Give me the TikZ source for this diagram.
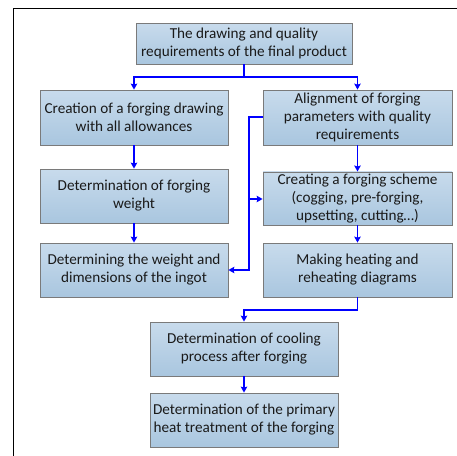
\documentclass[tikz,border=0pt]{standalone}
\usepackage{fontspec}
\setmainfont{Carlito}
\usetikzlibrary{arrows.meta,shadows,calc}
\definecolor{boxtop}{HTML}{C8DBEC}
\definecolor{boxbot}{HTML}{A9C6DF}
\definecolor{boxline}{HTML}{7A7A7A}
\definecolor{arrowblue}{HTML}{0000FF}
\definecolor{txt}{HTML}{1A1A1A}
\begin{document}
\begin{tikzpicture}[x=1pt,y=-1pt,
  flowbox/.style={draw=boxline, line width=0.8pt, top color=boxtop, bottom color=boxbot,
    align=center, inner sep=2pt, text=txt, font=\fontsize{15.2}{18}\selectfont,
    drop shadow={shadow xshift=1.2pt, shadow yshift=-1.2pt, opacity=0.35, fill=gray}},
  conn/.style={draw=arrowblue, line width=1.6pt, -{Stealth[length=6pt,width=6.5pt,inset=1pt]}}]
\useasboundingbox (0,0) rectangle (457,455);
\fill[white] (0,0) rectangle (457,455);
\draw[line width=0.9pt] (460,8) -- (13,8) -- (13,460);
\node[flowbox, minimum width=216pt, minimum height=41pt] (top) at (244,43.5)
  {The drawing and quality\\requirements of the final product};
\node[flowbox, minimum width=188pt, minimum height=55pt] (l1) at (134,117.5)
  {Creation of a forging drawing\\with all allowances};
\node[flowbox, minimum width=189pt, minimum height=55pt] (r1) at (357.5,117.5)
  {Alignment of forging\\parameters with quality\\requirements};
\node[flowbox, minimum width=188pt, minimum height=54pt] (l2) at (134,196)
  {Determination of forging\\weight};
\node[flowbox, minimum width=189pt, minimum height=53pt] (r2) at (357.5,198.5)
  {Creating a forging scheme\\(cogging, pre-forging,\\upsetting, cutting…)};
\node[flowbox, minimum width=188pt, minimum height=54pt] (l3) at (134,270)
  {Determining the weight and\\dimensions of the ingot};
\node[flowbox, minimum width=189pt, minimum height=54pt] (r3) at (357.5,270)
  {Making heating and\\reheating diagrams};
\node[flowbox, minimum width=188pt, minimum height=54pt] (c1) at (244,349)
  {Determination of cooling\\process after forging};
\node[flowbox, minimum width=188pt, minimum height=54pt] (c2) at (244,420)
  {Determination of the primary\\heat treatment of the forging};
\coordinate (split) at (244,77);
\coordinate (bend) at (357.5,310);
\coordinate (vline) at (249,117);
\coordinate (tap) at (249,199);
\draw[conn] (top.south) -- (split) -| (l1.north);
\draw[conn] (split) -| (r1.north);
\draw[conn] (l1) -- (l2);
\draw[conn] (l2) -- (l3);
\draw[conn] (r1) -- (r2);
\draw[conn] (r2) -- (r3);
\draw[conn] (r1.west |- vline) -- (vline) |- (l3.east);
\draw[conn] (tap) -- (r2.west |- tap);
\draw[conn] (r3.south) -- (bend) -| (c1.north);
\draw[conn] (c1) -- (c2);
\end{tikzpicture}
\end{document}
